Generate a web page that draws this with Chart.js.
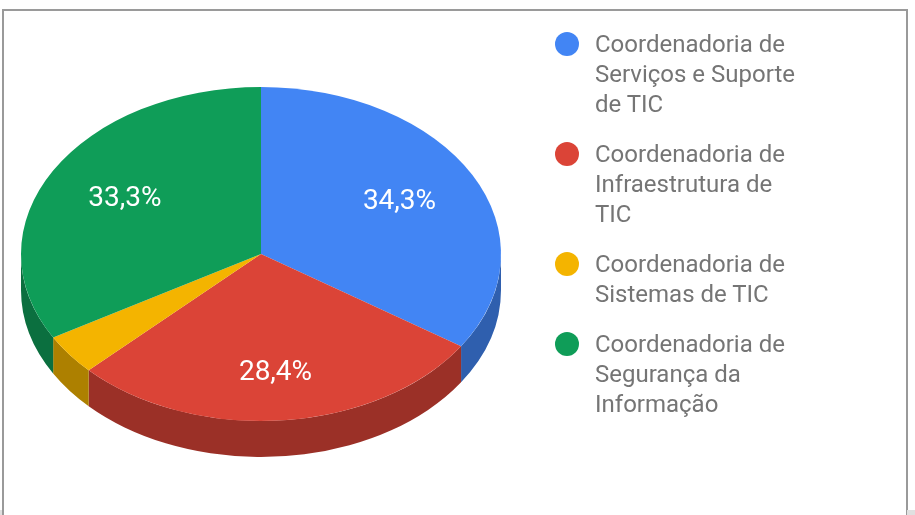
<!DOCTYPE html>
<html>
<head>
<meta charset="utf-8">
<script src="https://cdn.jsdelivr.net/npm/chart.js@4.4.0/dist/chart.umd.min.js"></script>
<style>
  body { margin: 0; background: #fff; width: 915px; height: 515px; overflow: hidden; position: relative; font-family: Roboto, Arial, sans-serif; }
  #frame { position: absolute; left: 2px; top: 9px; width: 902px; height: 520px; border: 2px solid #9a9a9a; border-bottom: none; }
  #chart { position: absolute; left: 0; top: 0; }
  #legend { position: absolute; left: 555px; top: 29px; }
  .item { position: relative; padding-left: 40px; font-size: 24px; line-height: 30px; color: #757575; margin-bottom: 20px; white-space: nowrap; }
  .dot { position: absolute; left: 0; top: 3px; width: 24px; height: 24px; border-radius: 50%; }
  .corner { position: absolute; bottom: 0; height: 5px; background: #e0e0e0; }
</style>
</head>
<body>
<div id="frame"></div>
<div class="corner" style="left:0;width:2px"></div>
<div class="corner" style="left:907px;width:8px"></div>
<canvas id="chart" width="915" height="515"></canvas>
<div id="legend"></div>
<script>
const categories = [
  ["Coordenadoria de", "Serviços e Suporte", "de TIC"],
  ["Coordenadoria de", "Infraestrutura de", "TIC"],
  ["Coordenadoria de", "Sistemas de TIC"],
  ["Coordenadoria de", "Segurança da", "Informação"]
];
const values = [35, 29, 4, 34];
const topColors = ["#4285f4", "#db4437", "#f4b400", "#0f9d58"];
const sideColors = ["#2f5fae", "#9b3027", "#ad8000", "#0b6f3f"];

const squash = 167 / 240;
const depth = 36;

// legend as html
const legend = document.getElementById("legend");
categories.forEach((lines, i) => {
  const item = document.createElement("div");
  item.className = "item";
  item.innerHTML = '<span class="dot" style="background:' + topColors[i] + '"></span>' + lines.join("<br>");
  legend.appendChild(item);
});

const pie3d = {
  id: "pie3d",
  beforeDatasetsDraw(chart) {
    const ctx = chart.ctx;
    const arcs = chart.getDatasetMeta(0).data;
    const cx = arcs[0].x, cy = arcs[0].y;
    const rx = arcs[0].outerRadius, ry = rx * squash;
    // side walls, only the front half is visible
    arcs.forEach((arc, i) => {
      const a0 = Math.max(arc.startAngle, 0);
      const a1 = Math.min(arc.endAngle, Math.PI);
      if (a1 <= a0) return;
      ctx.beginPath();
      ctx.ellipse(cx, cy, rx, ry, 0, a0, a1);
      ctx.ellipse(cx, cy + depth, rx, ry, 0, a1, a0, true);
      ctx.closePath();
      ctx.fillStyle = sideColors[i];
      ctx.fill();
    });
    ctx.save();
    ctx.translate(cx, cy);
    ctx.scale(1, squash);
    ctx.translate(-cx, -cy);
  },
  afterDatasetsDraw(chart) {
    const ctx = chart.ctx;
    ctx.restore();
    const arcs = chart.getDatasetMeta(0).data;
    const total = values.reduce((a, b) => a + b, 0);
    ctx.save();
    ctx.fillStyle = "#ffffff";
    ctx.font = "28px Roboto";
    ctx.textAlign = "center";
    ctx.textBaseline = "middle";
    arcs.forEach((arc, i) => {
      const pct = values[i] / total * 100;
      if (pct < 5) return;
      const mid = (arc.startAngle + arc.endAngle) / 2;
      const x = arc.x + arc.outerRadius * 0.655 * Math.cos(mid);
      const y = arc.y + arc.outerRadius * squash * 0.70 * Math.sin(mid) + 3;
      ctx.fillText(pct.toFixed(1).replace(".", ",") + "%", x, y);
    });
    ctx.restore();
  }
};

new Chart(document.getElementById("chart"), {
  type: "pie",
  data: {
    labels: categories.map(l => l.join(" ")),
    datasets: [{
      data: values,
      backgroundColor: topColors,
      borderWidth: 0
    }]
  },
  options: {
    responsive: false,
    animation: false,
    layout: { padding: { left: 21, top: 14, right: 414, bottom: 21 } },
    plugins: {
      legend: { display: false },
      tooltip: { enabled: false }
    }
  },
  plugins: [pie3d]
});
</script>
</body>
</html>
